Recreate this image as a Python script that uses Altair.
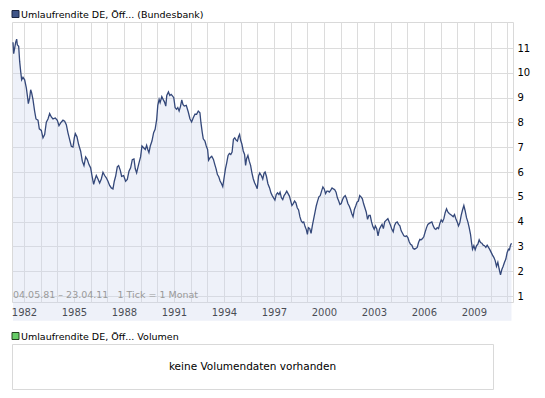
import altair as alt
import pandas as pd

SERIES_NAME = "Umlaufrendite DE, Öff... (Bundesbank)"
VOLUME_NAME = "Umlaufrendite DE, Öff... Volumen"
NO_VOLUME_TEXT = "keine Volumendaten vorhanden"
RANGE_TEXT = "04.05.81 – 23.04.11\u00a0\u00a0\u00a01 Tick = 1 Monat"

# time as fractional year
years = [
    1981.34, 1981.38, 1981.44, 1981.50, 1981.56, 1981.60, 1981.68, 1981.74, 1981.80, 1981.86,
    1981.94, 1982.04, 1982.14, 1982.22, 1982.26, 1982.34, 1982.40, 1982.46, 1982.54, 1982.64,
    1982.72, 1982.84, 1982.92, 1983.04, 1983.14, 1983.24, 1983.34, 1983.44, 1983.54, 1983.64,
    1983.74, 1983.88, 1984.00, 1984.10, 1984.20, 1984.34, 1984.44, 1984.54, 1984.64, 1984.74,
    1984.84, 1984.94, 1985.02, 1985.08, 1985.18, 1985.28, 1985.40, 1985.50, 1985.60, 1985.70,
    1985.80, 1985.90, 1986.00, 1986.08, 1986.18, 1986.26, 1986.34, 1986.44, 1986.54, 1986.64,
    1986.74, 1986.84, 1986.94, 1987.04, 1987.14, 1987.24, 1987.34, 1987.42, 1987.50, 1987.60,
    1987.68, 1987.78, 1987.86, 1987.98, 1988.10, 1988.20, 1988.30, 1988.40, 1988.50, 1988.60,
    1988.68, 1988.76, 1988.88, 1989.00, 1989.08, 1989.18, 1989.28, 1989.36, 1989.44, 1989.50,
    1989.58, 1989.68, 1989.78, 1989.87, 1989.96, 1990.03, 1990.11, 1990.17, 1990.27, 1990.35,
    1990.43, 1990.51, 1990.57, 1990.67, 1990.75, 1990.83, 1990.91, 1990.99, 1991.07, 1991.15,
    1991.23, 1991.31, 1991.39, 1991.47, 1991.54, 1991.62, 1991.74, 1991.86, 1991.96, 1992.06,
    1992.16, 1992.26, 1992.36, 1992.46, 1992.56, 1992.62, 1992.70, 1992.76, 1992.86, 1992.94,
    1993.02, 1993.08, 1993.17, 1993.27, 1993.37, 1993.45, 1993.53, 1993.61, 1993.69, 1993.77,
    1993.85, 1993.93, 1994.01, 1994.09, 1994.17, 1994.25, 1994.33, 1994.41, 1994.49, 1994.57,
    1994.65, 1994.73, 1994.81, 1994.88, 1994.94, 1995.00, 1995.08, 1995.16, 1995.24, 1995.30,
    1995.36, 1995.44, 1995.52, 1995.60, 1995.68, 1995.76, 1995.84, 1995.92, 1996.00, 1996.08,
    1996.15, 1996.25, 1996.33, 1996.41, 1996.47, 1996.55, 1996.64, 1996.74, 1996.82, 1996.90,
    1996.98, 1997.06, 1997.14, 1997.22, 1997.30, 1997.37, 1997.45, 1997.53, 1997.61, 1997.69,
    1997.77, 1997.85, 1997.93, 1998.01, 1998.08, 1998.16, 1998.24, 1998.32, 1998.40, 1998.48,
    1998.56, 1998.64, 1998.72, 1998.79, 1998.87, 1998.95, 1999.01, 1999.07, 1999.15, 1999.23,
    1999.31, 1999.39, 1999.47, 1999.54, 1999.62, 1999.70, 1999.78, 1999.86, 1999.94, 2000.02,
    2000.10, 2000.18, 2000.25, 2000.33, 2000.41, 2000.49, 2000.57, 2000.65, 2000.73, 2000.81,
    2000.89, 2000.96, 2001.04, 2001.12, 2001.20, 2001.28, 2001.36, 2001.44, 2001.52, 2001.60,
    2001.67, 2001.75, 2001.83, 2001.91, 2001.99, 2002.07, 2002.15, 2002.23, 2002.31, 2002.38,
    2002.46, 2002.54, 2002.62, 2002.70, 2002.78, 2002.86, 2002.94, 2003.02, 2003.09, 2003.17,
    2003.25, 2003.33, 2003.41, 2003.49, 2003.57, 2003.65, 2003.76, 2003.84, 2003.92, 2004.00,
    2004.08, 2004.16, 2004.24, 2004.32, 2004.40, 2004.48, 2004.56, 2004.64, 2004.72, 2004.80,
    2004.88, 2004.96, 2005.04, 2005.12, 2005.20, 2005.28, 2005.36, 2005.44, 2005.52, 2005.60,
    2005.68, 2005.76, 2005.84, 2005.92, 2006.00, 2006.08, 2006.16, 2006.24, 2006.32, 2006.40,
    2006.48, 2006.56, 2006.64, 2006.72, 2006.80, 2006.88, 2006.96, 2007.04, 2007.12, 2007.20,
    2007.28, 2007.36, 2007.44, 2007.52, 2007.60, 2007.68, 2007.76, 2007.84, 2007.92, 2008.00,
    2008.08, 2008.16, 2008.24, 2008.32, 2008.40, 2008.48, 2008.56, 2008.64, 2008.72, 2008.80,
    2008.86, 2008.92, 2009.00, 2009.08, 2009.16, 2009.24, 2009.32, 2009.40, 2009.48, 2009.56,
    2009.64, 2009.72, 2009.80, 2009.88, 2009.96, 2010.04, 2010.12, 2010.20, 2010.28, 2010.36,
    2010.44, 2010.52, 2010.60, 2010.68, 2010.76, 2010.84, 2010.92, 2011.00, 2011.08, 2011.14,
    2011.20, 2011.26,
]

yields = [
    11.23, 10.77, 11.00, 11.23, 11.36, 11.13, 11.07, 10.46, 10.06, 9.72,
    9.82, 9.72, 9.39, 8.99, 8.76, 8.99, 9.32, 9.19, 8.92, 8.45,
    8.14, 8.09, 7.74, 7.68, 7.38, 7.51, 8.01, 8.14, 8.36, 8.22,
    8.14, 8.18, 8.09, 7.87, 7.98, 8.09, 8.05, 7.91, 7.58, 7.31,
    7.04, 7.01, 7.38, 7.55, 7.42, 7.11, 6.84, 6.44, 6.26, 6.61,
    6.50, 6.30, 6.17, 5.86, 5.50, 5.70, 5.86, 5.72, 5.56, 5.72,
    5.99, 5.86, 5.77, 5.63, 5.46, 5.36, 5.32, 5.63, 5.83, 6.21,
    6.26, 6.07, 5.83, 5.86, 5.63, 5.70, 6.03, 6.17, 6.50, 6.53,
    6.13, 5.97, 6.31, 6.62, 7.05, 6.98, 6.91, 7.08, 6.89, 6.78,
    7.05, 7.25, 7.59, 7.72, 8.10, 8.69, 8.93, 8.80, 9.04, 8.93,
    8.83, 8.66, 9.09, 9.23, 9.09, 9.13, 9.07, 9.00, 8.60, 8.53,
    8.60, 8.46, 8.64, 8.91, 8.73, 8.66, 8.69, 8.42, 8.15, 8.02,
    8.19, 8.33, 8.33, 8.46, 8.39, 7.99, 7.59, 7.34, 7.25, 7.05,
    6.91, 6.48, 6.58, 6.64, 6.51, 6.31, 6.13, 5.90, 5.81, 5.64,
    5.54, 5.41, 5.77, 6.13, 6.38, 6.67, 6.75, 6.71, 6.81, 7.32,
    7.38, 7.29, 7.25, 7.43, 7.52, 7.29, 7.12, 6.85, 6.71, 6.27,
    6.54, 6.67, 6.44, 6.27, 5.97, 5.73, 5.57, 5.46, 5.33, 5.84,
    5.96, 5.85, 5.72, 5.96, 6.00, 5.83, 5.53, 5.36, 5.16, 5.05,
    4.96, 4.87, 5.09, 5.16, 5.09, 5.19, 4.96, 4.89, 5.05, 5.13,
    5.23, 5.13, 5.03, 4.83, 4.65, 4.73, 4.83, 4.76, 4.56, 4.47,
    4.20, 4.03, 3.96, 3.99, 3.80, 3.67, 3.49, 3.76, 3.72, 3.53,
    3.85, 4.12, 4.39, 4.63, 4.83, 5.00, 5.05, 5.23, 5.40, 5.32,
    5.13, 5.23, 5.23, 5.19, 5.27, 5.36, 5.32, 5.29, 5.19, 4.96,
    4.83, 4.69, 4.73, 4.89, 5.00, 5.05, 4.92, 4.73, 4.63, 4.49,
    4.33, 4.20, 4.49, 4.63, 4.79, 4.83, 5.05, 5.00, 4.92, 4.73,
    4.56, 4.39, 4.09, 4.25, 4.25, 3.99, 3.80, 3.69, 3.83, 3.72,
    3.43, 3.69, 3.80, 3.89, 3.72, 3.99, 4.07, 4.12, 3.99, 3.85,
    3.69, 3.59, 3.85, 3.96, 3.99, 3.89, 3.83, 3.63, 3.53, 3.43,
    3.40, 3.43, 3.36, 3.19, 3.09, 3.05, 2.92, 2.89, 2.92, 2.96,
    3.16, 3.29, 3.27, 3.32, 3.40, 3.59, 3.76, 3.89, 3.93, 3.96,
    3.99, 3.83, 3.72, 3.69, 3.76, 3.72, 3.93, 4.07, 3.99, 4.12,
    4.36, 4.52, 4.39, 4.33, 4.29, 4.25, 4.20, 4.29, 4.12, 3.99,
    3.83, 3.96, 4.25, 4.47, 4.65, 4.43, 4.16, 3.99, 3.76, 3.49,
    3.16, 2.89, 3.03, 2.87, 3.03, 3.09, 3.27, 3.16, 3.13, 3.05,
    3.03, 2.96, 3.05, 2.96, 2.87, 2.76, 2.65, 2.56, 2.43, 2.20,
    2.36, 2.09, 1.85, 2.07, 2.20, 2.36, 2.49, 2.76, 2.89, 2.87,
    3.05, 3.13,
]

grid_years = list(range(1982, 2012))
y_ticks = list(range(1, 12))

FONT = "DejaVu Sans"
PLOT_W, PLOT_H = 501, 280
BOX_W, BOX_H = 481, 45

df = pd.DataFrame({"year": years, "value": yields})

x_enc = alt.X(
    "year:Q",
    scale=alt.Scale(domain=[1981.28, 2011.35], nice=False, zero=False),
    axis=alt.Axis(
        values=grid_years,
        format="d",
        labelExpr="(datum.value - 1982) % 3 === 0 ? datum.label : ''",
        grid=True, domain=False, ticks=False, tickSize=0,
        labelPadding=5, labelFlush=False, labelOverlap=False, labelBound=False,
        title=None,
    ),
)
y_enc = alt.Y(
    "value:Q",
    scale=alt.Scale(domain=[0.76, 12.05], nice=False, zero=False),
    axis=alt.Axis(
        orient="right", values=y_ticks, format="d",
        grid=True, domain=False, ticks=False, tickSize=0,
        labelPadding=4, labelAlign="left", labelFlush=False, labelOverlap=False,
        title=None,
    ),
)

base = alt.Chart(df).encode(x=x_enc, y=y_enc)
area = base.mark_area(color="#ced7ee", opacity=0.35)
line = base.mark_line(color="#34487a", strokeWidth=1.3)

legend_df = pd.DataFrame({"label": [SERIES_NAME]})
legend_sq = alt.Chart(legend_df).mark_square(
    size=49, color="#3f5588", stroke="#1a2540", strokeWidth=1, opacity=1
).encode(x=alt.value(3.5), y=alt.value(-8))
legend_tx = alt.Chart(legend_df).mark_text(
    align="left", baseline="middle", font=FONT, fontSize=9.5, color="#000000"
).encode(x=alt.value(9), y=alt.value(-7.5), text="label:N")

info_df = pd.DataFrame({"t": [RANGE_TEXT]})
info = alt.Chart(info_df).mark_text(
    align="left", baseline="middle", font=FONT, fontSize=9.5, color="#9a9a9a"
).encode(x=alt.value(1), y=alt.value(273), text="t:N")

top = alt.layer(area, line, legend_sq, legend_tx, info).properties(
    width=PLOT_W, height=PLOT_H
)

vol_df = pd.DataFrame({"label": [VOLUME_NAME], "msg": [NO_VOLUME_TEXT]})
v_sq = alt.Chart(vol_df).mark_square(
    size=49, color="#66cc66", stroke="#24401f", strokeWidth=1, opacity=1
).encode(x=alt.value(3.5), y=alt.value(-8))
v_tx = alt.Chart(vol_df).mark_text(
    align="left", baseline="middle", font=FONT, fontSize=9.5, color="#000000"
).encode(x=alt.value(9), y=alt.value(-7.5), text="label:N")
v_msg = alt.Chart(vol_df).mark_text(
    align="center", baseline="middle", font=FONT, fontSize=10.5, color="#000000"
).encode(x=alt.value(BOX_W / 2), y=alt.value(BOX_H / 2), text="msg:N")

bottom = alt.layer(v_sq, v_tx, v_msg).properties(width=BOX_W, height=BOX_H)

chart = (
    alt.vconcat(top, bottom, spacing=8)
    .properties(padding={"left": 1, "right": 2, "top": 0, "bottom": 0})
    .configure(font=FONT, background="#ffffff")
    .configure_view(stroke="#d9d9d9", strokeWidth=1)
    .configure_axis(
        labelFont=FONT, labelFontSize=10, labelColor="#000000",
        gridColor="#dcdcdc", gridOpacity=1, gridWidth=1,
    )
)

chart.save("out.html", embed_options={"renderer": "svg", "actions": False})
